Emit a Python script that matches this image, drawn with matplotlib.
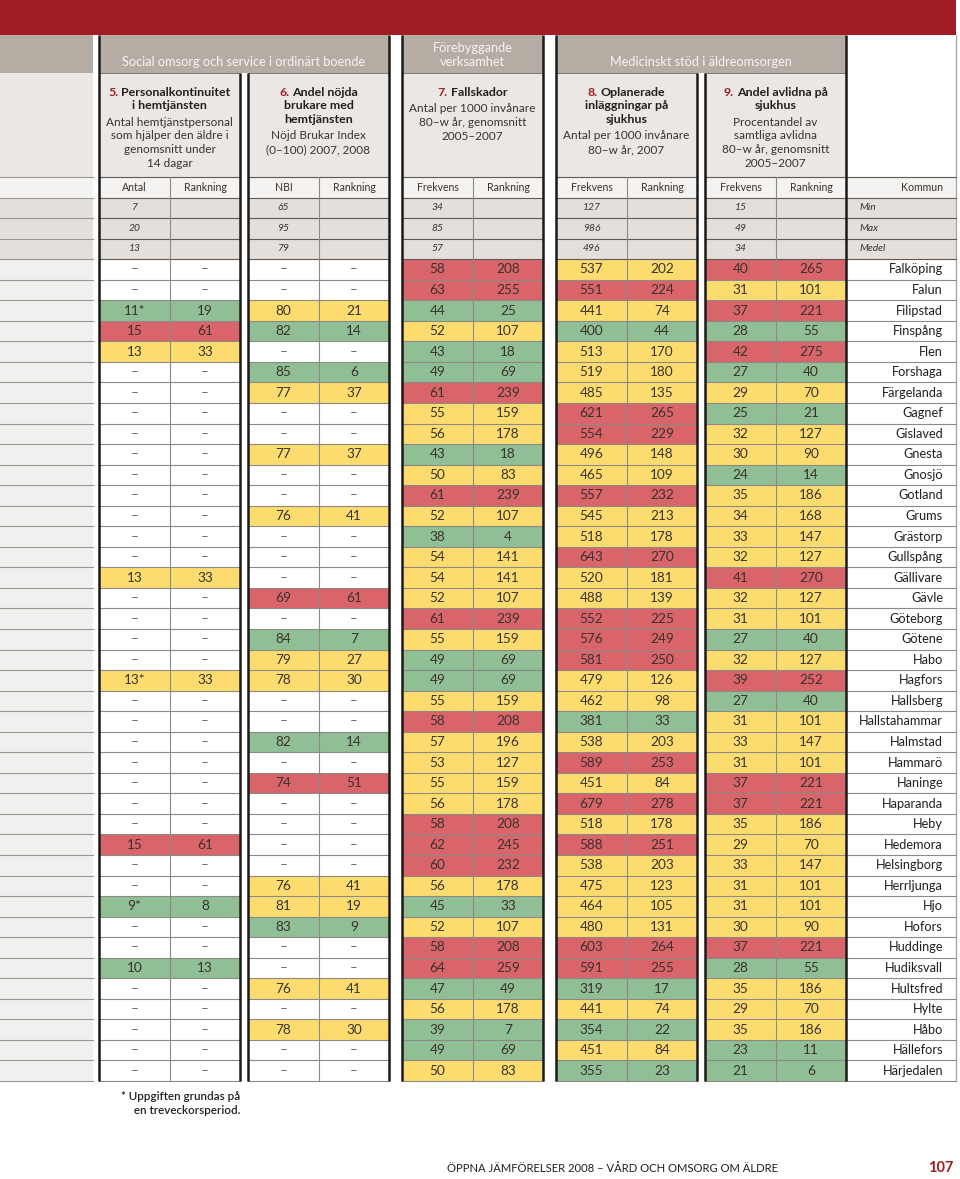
# -*- coding: utf-8 -*-

import matplotlib.pyplot as plt
from matplotlib.patches import Rectangle

plt.rcParams['font.family'] = ['Lato', 'DejaVu Sans']

# Data: kommuner och indikatorvärden (– = uppgift saknas)
kommuner = ["Falköping", "Falun", "Filipstad", "Finspång", "Flen", "Forshaga",
            "Färgelanda", "Gagnef", "Gislaved", "Gnesta", "Gnosjö", "Gotland",
            "Grums", "Grästorp", "Gullspång", "Gällivare", "Gävle", "Göteborg",
            "Götene", "Habo", "Hagfors", "Hallsberg", "Hallstahammar", "Halmstad",
            "Hammarö", "Haninge", "Haparanda", "Heby", "Hedemora", "Helsingborg",
            "Herrljunga", "Hjo", "Hofors", "Huddinge", "Hudiksvall", "Hultsfred",
            "Hylte", "Håbo", "Hällefors", "Härjedalen"]

# 5. Personalkontinuitet
p5_antal = ["", "", "11*", "15", "13", "", "", "", "", "", "", "", "", "", "",
            "13", "", "", "", "", "13*", "", "", "", "", "", "", "", "15", "",
            "", "9*", "", "", "10", "", "", "", "", ""]
p5_rank = ["", "", "19", "61", "33", "", "", "", "", "", "", "", "", "", "",
           "33", "", "", "", "", "33", "", "", "", "", "", "", "", "61", "",
           "", "8", "", "", "13", "", "", "", "", ""]
p5_farg = "WWGRYWWWWWWWWWWYWWWWYWWWWWWWRWWGWWGWWWWW"

# 6. Nöjd Brukar Index
p6_nbi = ["", "", "80", "82", "", "85", "77", "", "", "77", "", "", "76", "",
          "", "", "69", "", "84", "79", "78", "", "", "82", "", "74", "", "",
          "", "", "76", "81", "83", "", "", "76", "", "78", "", ""]
p6_rank = ["", "", "21", "14", "", "6", "37", "", "", "37", "", "", "41", "",
           "", "", "61", "", "7", "27", "30", "", "", "14", "", "51", "", "",
           "", "", "41", "19", "9", "", "", "41", "", "30", "", ""]
p6_farg = "WWYGWGYWWYWWYWWWRWGYYWWGWRWWWWYYGWWYWYWW"

# 7. Fallskador
p7_frek = [58, 63, 44, 52, 43, 49, 61, 55, 56, 43, 50, 61, 52, 38, 54, 54, 52,
           61, 55, 49, 49, 55, 58, 57, 53, 55, 56, 58, 62, 60, 56, 45, 52, 58,
           64, 47, 56, 39, 49, 50]
p7_rank = [208, 255, 25, 107, 18, 69, 239, 159, 178, 18, 83, 239, 107, 4, 141,
           141, 107, 239, 159, 69, 69, 159, 208, 196, 127, 159, 178, 208, 245,
           232, 178, 33, 107, 208, 259, 49, 178, 7, 69, 83]
p7_farg = "RRGYGGRYYGYRYGYYYRYGGYRYYYYRRRYGYRRGYGGY"

# 8. Oplanerade inläggningar
p8_frek = [537, 551, 441, 400, 513, 519, 485, 621, 554, 496, 465, 557, 545, 518,
           643, 520, 488, 552, 576, 581, 479, 462, 381, 538, 589, 451, 679, 518,
           588, 538, 475, 464, 480, 603, 591, 319, 441, 354, 451, 355]
p8_rank = [202, 224, 74, 44, 170, 180, 135, 265, 229, 148, 109, 232, 213, 178,
           270, 181, 139, 225, 249, 250, 126, 98, 33, 203, 253, 84, 278, 178, 251,
           203, 123, 105, 131, 264, 255, 17, 74, 22, 84, 23]
p8_farg = "YRYGYYYRRYYRYYRYYRRRYYGYRYRYRYYYYRRGYGYG"

# 9. Andel avlidna på sjukhus
p9_frek = [40, 31, 37, 28, 42, 27, 29, 25, 32, 30, 24, 35, 34, 33, 32, 41, 32,
           31, 27, 32, 39, 27, 31, 33, 31, 37, 37, 35, 29, 33, 31, 31, 30, 37,
           28, 35, 29, 35, 23, 21]
p9_rank = [265, 101, 221, 55, 275, 40, 70, 21, 127, 90, 14, 186, 168, 147, 127,
           270, 127, 101, 40, 127, 252, 40, 101, 147, 101, 221, 221, 186, 70, 147,
           101, 101, 90, 221, 55, 186, 70, 186, 11, 6]
p9_farg = "RYRGRGYGYYGYYYYRYYGYRGYYYRRYYYYYYRGYYYGG"

# Min / Max / Medel per indikator
stat_namn = ["Min", "Max", "Medel"]
stat_p5 = [7, 20, 13]
stat_p6 = [65, 95, 79]
stat_p7 = [34, 85, 57]
stat_p8 = [127, 986, 496]
stat_p9 = [15, 49, 34]

kol_rubrik = [("Antal", "Rankning"), ("NBI", "Rankning"), ("Frekvens", "Rankning"),
              ("Frekvens", "Rankning"), ("Frekvens", "Rankning")]

titlar = [
    ("5.", ["Personalkontinuitet", "i hemtjänsten"],
     ["Antal hemtjänstpersonal", "som hjälper den äldre i", "genomsnitt under", "14 dagar"]),
    ("6.", ["Andel nöjda", "brukare med", "hemtjänsten"],
     ["Nöjd Brukar Index", "(0–100) 2007, 2008"]),
    ("7.", ["Fallskador"],
     ["Antal per 1000 invånare", "80–w år, genomsnitt", "2005–2007"]),
    ("8.", ["Oplanerade", "inläggningar på", "sjukhus"],
     ["Antal per 1000 invånare", "80–w år, 2007"]),
    ("9.", ["Andel avlidna på", "sjukhus"],
     ["Procentandel av", "samtliga avlidna", "80–w år, genomsnitt", "2005–2007"]),
]

# ---------------------------------------------------------------------------
RED = "#a11c22"
BAND = "#b5ada4"
SUB = "#ebe7e4"
LABEL = "#f4f3f1"
STAT = "#e4dfdb"
STRIP = "#f1f0ee"
TXT = "#3a322e"
farger = {"R": "#d9656a", "Y": "#fddc6f", "G": "#90be95", "W": "white"}

fig = plt.figure(figsize=(9.6, 11.79), dpi=100)
ax = fig.add_axes([0, 0, 1, 1])
ax.set_xlim(0, 960)
ax.set_ylim(1179, 0)
ax.axis("off")
renderer = fig.canvas.get_renderer()

# panelernas x-lägen: vänster, delning, höger
panels = [(99, 170, 240), (248, 319, 389), (402, 473, 543),
          (556, 627, 697), (705, 776, 846)]
kx0, kx1 = 846, 956
y_top = 177
n_rows = 4 + len(kommuner)
rh = (1081 - y_top) / n_rows


def row_y(i):
    return y_top + i * rh


def rect(x0, y0, x1, y1, color, z=1):
    ax.add_patch(Rectangle((x0, y0), x1 - x0, y1 - y0, facecolor=color,
                           edgecolor="none", zorder=z))


def rich(xc, y, num, rest, size, weight="bold"):
    full = ax.text(0, y, num + " " + rest, fontsize=size, weight=weight)
    part = ax.text(0, y, rest, fontsize=size, weight=weight)
    W = full.get_window_extent(renderer).width
    Wr = part.get_window_extent(renderer).width
    full.remove()
    x0 = xc - W / 2
    ax.text(x0, y, num, fontsize=size, weight=weight, color=RED,
            va="center", ha="left", zorder=5)
    part.set_position((x0 + W - Wr, y))
    part.set_va("center")
    part.set_color("#231f1c")
    part.set_zorder(5)


# toppband
rect(0, 0, 956, 35, RED)

# vänster remsa
rect(0, 35, 93, 73, BAND)
rect(0, 73, 93, y_top, SUB)
for i in range(n_rows):
    c = LABEL if i == 0 else (STAT if i < 4 else STRIP)
    rect(0, row_y(i), 93, row_y(i + 1), c)
    ax.plot([0, 93], [row_y(i), row_y(i)], color="#9a9894", lw=0.8, zorder=3)
ax.plot([0, 93], [1081, 1081], color="#9a9894", lw=0.8, zorder=3)

# gruppband
grupper = [(99, 389, ["Social omsorg och service i ordinärt boende"]),
           (402, 543, ["Förebyggande", "verksamhet"]),
           (556, 846, ["Medicinskt stöd i äldreomsorgen"])]
for gx0, gx1, lines in grupper:
    rect(gx0, 35, gx1, 73, BAND)
    for j, s in enumerate(lines[::-1]):
        ax.text((gx0 + gx1) / 2, 62 - 14 * j, s, ha="center", va="center",
                fontsize=9.2, color="#f7f4f0", zorder=5)

data = [(p5_antal, p5_rank, p5_farg, stat_p5),
        (p6_nbi, p6_rank, p6_farg, stat_p6),
        (p7_frek, p7_rank, p7_farg, stat_p7),
        (p8_frek, p8_rank, p8_farg, stat_p8),
        (p9_frek, p9_rank, p9_farg, stat_p9)]

for (x0, xm, x1), (vals, ranks, cols, stats), (h1, h2), (num, tit, desc) in zip(
        panels, data, kol_rubrik, titlar):
    rect(x0, 73, x1, y_top, SUB)
    # titel
    y = 92
    rich((x0 + x1) / 2, y, num, tit[0], 8.9)
    for s in tit[1:]:
        y += 13.6
        ax.text((x0 + x1) / 2, y, s, ha="center", va="center", fontsize=8.9,
                weight="bold", color="#231f1c", zorder=5)
    y += 16.5
    for s in desc:
        ax.text((x0 + x1) / 2, y, s, ha="center", va="center", fontsize=8.5,
                color=TXT, zorder=5)
        y += 13.8
    # kolumnrubriker
    rect(x0, row_y(0), x1, row_y(1), LABEL)
    yc = (row_y(0) + row_y(1)) / 2
    ax.text((x0 + xm) / 2, yc, h1, ha="center", va="center", fontsize=7.6,
            color=TXT, zorder=5)
    ax.text((xm + x1) / 2, yc, h2, ha="center", va="center", fontsize=7.6,
            color=TXT, zorder=5)
    # min/max/medel
    for k, v in enumerate(stats):
        i = k + 1
        rect(x0, row_y(i), x1, row_y(i + 1), STAT)
        ax.text((x0 + xm) / 2, (row_y(i) + row_y(i + 1)) / 2, str(v),
                ha="center", va="center", fontsize=7.4, style="italic",
                color=TXT, zorder=5)
    # data
    for k in range(len(kommuner)):
        i = k + 4
        rect(x0, row_y(i), x1, row_y(i + 1), farger[cols[k]])
        yc = (row_y(i) + row_y(i + 1)) / 2
        v = str(vals[k]) if vals[k] != "" else "–"
        r = str(ranks[k]) if ranks[k] != "" else "–"
        fc = "#6e6964" if vals[k] == "" else TXT
        ax.text((x0 + xm) / 2, yc, v, ha="center", va="center", fontsize=9.8,
                color=fc, zorder=5)
        ax.text((xm + x1) / 2, yc, r, ha="center", va="center", fontsize=9.8,
                color=fc, zorder=5)
    # linjer
    for i in range(n_rows + 1):
        lc = "#5e5a56" if i <= 4 else "#8d8a86"
        ax.plot([x0, x1], [row_y(i), row_y(i)], color=lc, lw=0.8, zorder=3)
    ax.plot([x0, x1], [73, 73], color="#6a6560", lw=0.6, zorder=3)
    ax.plot([xm, xm], [row_y(0), 1081], color="#8d8a86", lw=0.8, zorder=3)

# svarta kantlinjer
for x, ystart in [(99, 35), (240, 73), (248, 73), (389, 35), (402, 35),
                  (543, 35), (556, 35), (697, 73), (705, 73), (846, 35)]:
    ax.plot([x, x], [ystart, 1081], color="#1c1a19", lw=1.8, zorder=4,
            solid_capstyle="butt")

# kommunkolumn
ax.plot([kx1, kx1], [35, 1081], color="#a8a5a1", lw=0.9, zorder=3)
rect(kx0, row_y(0), kx1, row_y(1), LABEL)
ax.text(943, (row_y(0) + row_y(1)) / 2, "Kommun", ha="right", va="center",
        fontsize=7.6, color=TXT, zorder=5)
for k, s in enumerate(stat_namn):
    i = k + 1
    rect(kx0, row_y(i), kx1, row_y(i + 1), STAT)
    ax.text(859, (row_y(i) + row_y(i + 1)) / 2, s, ha="left", va="center",
            fontsize=7.4, style="italic", color=TXT, zorder=5)
for k, s in enumerate(kommuner):
    i = k + 4
    ax.text(943, (row_y(i) + row_y(i + 1)) / 2, s, ha="right", va="center",
            fontsize=9.2, color="#231f1c", zorder=5)
for i in range(n_rows + 1):
    lc = "#5e5a56" if i <= 4 else "#8d8a86"
    ax.plot([kx0, kx1], [row_y(i), row_y(i)], color=lc, lw=0.8, zorder=3)

# fotnot och sidfot
ax.text(240, 1097, "* Uppgiften grundas på", ha="right", va="center",
        fontsize=8.4, weight="semibold", color="#231f1c")
ax.text(240, 1110, "en treveckorsperiod.", ha="right", va="center",
        fontsize=8.4, weight="semibold", color="#231f1c")
ax.text(778, 1168, "ÖPPNA JÄMFÖRELSER 2008 – VÅRD OCH OMSORG OM ÄLDRE",
        ha="right", va="center", fontsize=8.1, color="#231f1c")
ax.text(953, 1168, "107", ha="right", va="center", fontsize=10.5,
        weight="bold", color=RED)

fig.savefig("out.png", dpi=100)
